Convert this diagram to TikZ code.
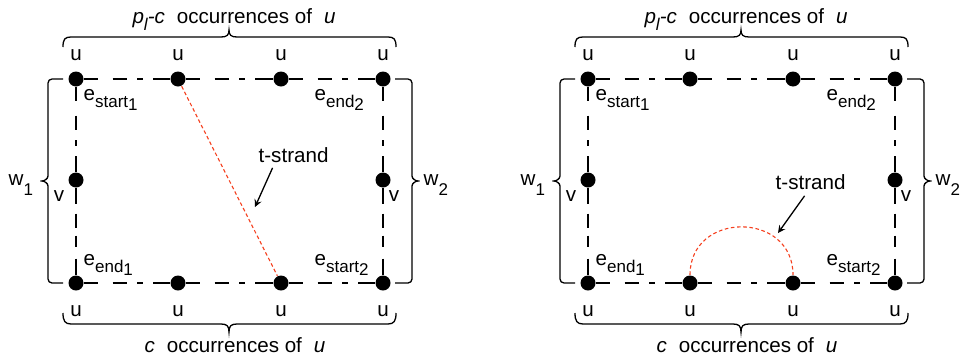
\documentclass[tikz,border=0pt]{standalone}
\usepackage{fontspec}
\setmainfont{Liberation Sans}
\usepackage{tikz}
\usetikzlibrary{positioning,arrows}

\newcommand{\lo}[1]{\raisebox{-3.5pt}{\fontsize{8.5}{10}\selectfont #1}}
\newcommand{\lolo}[1]{\raisebox{-1.5pt}{#1}}
\definecolor{strandred}{HTML}{F5401F}

\tikzset{
  dot/.style={circle, fill=black, inner sep=0pt, minimum size=7.5pt},
  lbl/.style={inner sep=0pt},
  gapline/.style={dash pattern=on 7pt off 7.25pt on 7.25pt off 5pt on 3pt off 5pt on 40pt},
  gaplow/.style={dash pattern=on 7.75pt off 5pt on 7pt off 4pt on 5.5pt off 6pt on 40pt},
  strand/.style={strandred, line width=0.55pt, dash pattern=on 1.8pt off 1.3pt},
}

\begin{document}
\begin{tikzpicture}[x=0.5pt, y=-0.5pt, line width=0.65pt,
    font=\fontsize{10.3}{12.4}\selectfont]
  \useasboundingbox (0,0) rectangle (967,359);

  % the two panels share the frame
  \foreach \p/\sh in {L/0pt, R/256pt} {
    \begin{scope}[xshift=\sh]
      \foreach \x [count=\i] in {76,178,281,383} {
        \node[dot] (\p-t\i) at (\x,79) {};
        \node[dot] (\p-b\i) at (\x,283) {};
        \node[lbl] (\p-ut\i) at (\x,55) {u};
        \node[lbl] (\p-ub\i) at (\x,311) {u};
      }
      \node[dot] (\p-m1) at (76,180) {};
      \node[dot] (\p-m4) at (383,180) {};
      \node[lbl] (\p-v1) at (59,196) {v};
      \node[lbl] (\p-v4) at (394,196) {v};

      \foreach \i/\j in {1/2,2/3,3/4} {
        \draw[gapline] (\p-t\i) -- (\p-t\j);
        \draw[gapline] (\p-b\i) -- (\p-b\j);
      }
      \draw[gapline] (\p-t1) -- (\p-m1);
      \draw[gapline] (\p-t4) -- (\p-m4);
      \draw[gaplow] (\p-m1) -- (\p-b1);
      \draw[gaplow] (\p-m4) -- (\p-b4);

      \node[lbl, anchor=base west] (\p-es1) at (83,100) {e\lo{start\lolo{1}}};
      \node[lbl, anchor=base west] (\p-ee2) at (314,100) {e\lo{end\lolo{2}}};
      \node[lbl, anchor=base west] (\p-ee1) at (83,265) {e\lo{end\lolo{1}}};
      \node[lbl, anchor=base west] (\p-es2) at (314,265) {e\lo{start\lolo{2}}};

      % side brackets
      \draw[rounded corners=2pt] (63,79) -- (48,79) -- (48,172)
        .. controls (48,179) and (44,181) .. (38,181)
        .. controls (44,181) and (48,183) .. (48,190) -- (48,283) -- (63,283);
      \draw[rounded corners=2pt] (395,79) -- (412,79) -- (412,172)
        .. controls (412,179) and (416,181) .. (422,181)
        .. controls (416,181) and (412,183) .. (412,190) -- (412,283) -- (395,283);
      \node[lbl, anchor=base west] (\p-w1) at (8,185) {w\lo{\lolo{1}}};
      \node[lbl, anchor=base west] (\p-w2) at (423,185) {w\lo{\lolo{2}}};

      % top and bottom braces
      \draw (63,47) .. controls (63,39) and (65,37) .. (71,37) -- (221,37)
        .. controls (227,37) and (229,35) .. (229,30)
        .. controls (229,35) and (231,37) .. (237,37) -- (388,37)
        .. controls (394,37) and (396,39) .. (396,47);
      \draw (63,313) .. controls (63,321) and (65,324) .. (71,324) -- (221,324)
        .. controls (227,324) and (229,326) .. (229,332)
        .. controls (229,326) and (231,324) .. (237,324) -- (388,324)
        .. controls (394,324) and (396,321) .. (396,313);
      \node[lbl, anchor=base] (\p-top) at (234,23)
        {{\itshape p\lo{l}-c}\hspace{6pt}occurrences of\hspace{6pt}{\itshape u}};
      \node[lbl, anchor=base] (\p-bot) at (235,352)
        {{\itshape c}\hspace{6pt}occurrences of\hspace{6pt}{\itshape u}};
    \end{scope}
  }

  % left: straight strand
  \draw[strand] (L-t2) -- (L-b3);
  \node[lbl, anchor=base west] (L-ts) at (258,162) {t-strand};
  \coordinate (L-hit) at (255,207);
  \draw[-stealth] ([xshift=-10.5pt,yshift=-2.5pt]L-ts.south) -- (L-hit);

  % right: arched strand
  \draw[strand] (R-b2.north) .. controls +(0,-64) and +(0,-64) .. (R-b3.north);
  \node[lbl, anchor=base west] (R-ts) at (775,189) {t-strand};
  \coordinate (R-hit) at (778,233);
  \draw[-stealth] ([xshift=-3pt,yshift=-3pt]R-ts.south) -- (R-hit);
\end{tikzpicture}
\end{document}
